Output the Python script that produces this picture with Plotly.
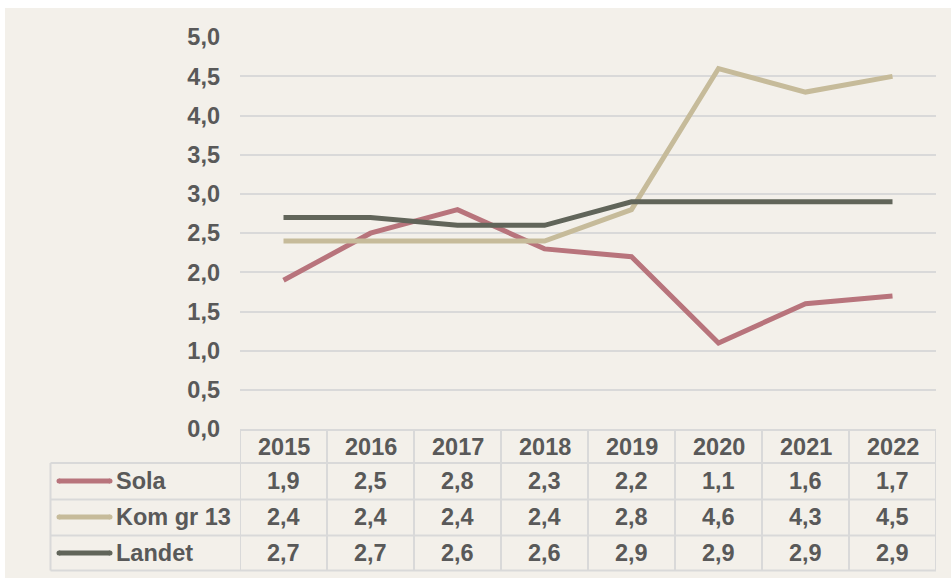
import plotly.graph_objects as go

years = ["2015", "2016", "2017", "2018", "2019", "2020", "2021", "2022"]
series_names = ["Sola", "Kom gr 13", "Landet"]
sola = [1.9, 2.5, 2.8, 2.3, 2.2, 1.1, 1.6, 1.7]
komgr13 = [2.4, 2.4, 2.4, 2.4, 2.8, 4.6, 4.3, 4.5]
landet = [2.7, 2.7, 2.6, 2.6, 2.9, 2.9, 2.9, 2.9]
colors = ["#B8747C", "#C6BB9A", "#61655A"]
yticks = [0, 0.5, 1, 1.5, 2, 2.5, 3, 3.5, 4, 4.5, 5]
yticklabels = [f"{v:.1f}".replace(".", ",") for v in yticks]

W, H = 951, 578
BG = "#F3F0EA"
TXT = "#595959"
GRID = "#D9D9D9"
FONT = "Liberation Sans, Arial, sans-serif"
FS = 23.5


def px_x(x):
    return x / W


def px_y(y):
    return 1 - y / H


x_idx = list(range(len(years)))
fig = go.Figure()
for name, vals, col in zip(series_names, [sola, komgr13, landet], colors):
    fig.add_trace(go.Scatter(x=x_idx, y=vals, mode="lines", name=name,
                             line=dict(color=col, width=5), showlegend=False,
                             hoverinfo="skip"))

plot_left, plot_right = 240, 936
y0_px, y5_px = 429.2, 37.2

fig.update_layout(
    width=W, height=H,
    autosize=False,
    margin=dict(l=0, r=0, t=0, b=0, pad=0, autoexpand=False),
    paper_bgcolor="white",
    plot_bgcolor=BG,
    font=dict(family=FONT, color=TXT, size=FS),
    xaxis=dict(domain=[px_x(plot_left), px_x(plot_right)], range=[-0.5, len(years) - 0.5],
               showgrid=False, zeroline=False, showticklabels=False, fixedrange=True,
               automargin=False),
    yaxis=dict(domain=[px_y(y0_px), px_y(y5_px)], range=[0, 5],
               tickvals=yticks, ticktext=yticklabels, showgrid=True, gridcolor=GRID,
               gridwidth=2, zeroline=False, automargin=False,
               tickfont=dict(family=FONT, color=TXT, size=FS, weight="bold"),
               ticklabelstandoff=19, fixedrange=True),
)

shapes = []
# beige background
shapes.append(dict(type="rect", xref="paper", yref="paper", x0=px_x(5), x1=1,
                   y0=0, y1=px_y(8), fillcolor=BG, line=dict(width=0), layer="below"))

# table lines
row_lines = [430, 463, 499.5, 535.5, 570.5]
for i, ry in enumerate(row_lines):
    x0 = plot_left if i == 0 else 50.5
    shapes.append(dict(type="line", xref="paper", yref="paper", x0=px_x(x0), x1=px_x(plot_right),
                       y0=px_y(ry), y1=px_y(ry), line=dict(color=GRID, width=2)))
for i in range(len(years) + 1):
    shapes.append(dict(type="line", xref="x", yref="paper", x0=i - 0.5, x1=i - 0.5,
                       y0=px_y(430), y1=px_y(570.5), line=dict(color=GRID, width=2)))
shapes.append(dict(type="line", xref="paper", yref="paper", x0=px_x(50.5), x1=px_x(50.5),
                   y0=px_y(463), y1=px_y(570.5), line=dict(color=GRID, width=2)))

annotations = []
header_y = 446.5
for i, yr in enumerate(years):
    annotations.append(dict(x=i, xref="x", y=px_y(header_y), yref="paper",
                            text=f"<b>{yr}</b>", showarrow=False,
                            xanchor="center", yanchor="middle",
                            font=dict(family=FONT, color=TXT, size=FS)))
row_centers = [481, 517, 553]
for r, (name, vals, col) in enumerate(zip(series_names, [sola, komgr13, landet], colors)):
    cy = row_centers[r]
    shapes.append(dict(type="line", xref="paper", yref="paper", x0=px_x(59), x1=px_x(110),
                       y0=px_y(cy), y1=px_y(cy), line=dict(color=col, width=5)))
    for cx in (59, 110):
        shapes.append(dict(type="circle", xref="paper", yref="paper",
                           x0=px_x(cx - 2.5), x1=px_x(cx + 2.5),
                           y0=px_y(cy + 2.5), y1=px_y(cy - 2.5),
                           fillcolor=col, line=dict(width=0)))
    annotations.append(dict(x=px_x(114), xref="paper", y=px_y(cy), yref="paper",
                            text=f"<b>{name}</b>", showarrow=False,
                            xanchor="left", yanchor="middle",
                            font=dict(family=FONT, color=TXT, size=FS)))
    for i, v in enumerate(vals):
        annotations.append(dict(x=i, xref="x", y=px_y(cy), yref="paper",
                                text="<b>" + f"{v:.1f}".replace(".", ",") + "</b>",
                                showarrow=False, xanchor="center", yanchor="middle",
                                font=dict(family=FONT, color=TXT, size=FS)))

fig.update_layout(shapes=shapes, annotations=annotations)
fig.write_html("out.html", config={"displayModeBar": False},
               post_script="document.body.style.margin='0';document.body.style.padding='0';document.body.style.overflow='hidden';")
